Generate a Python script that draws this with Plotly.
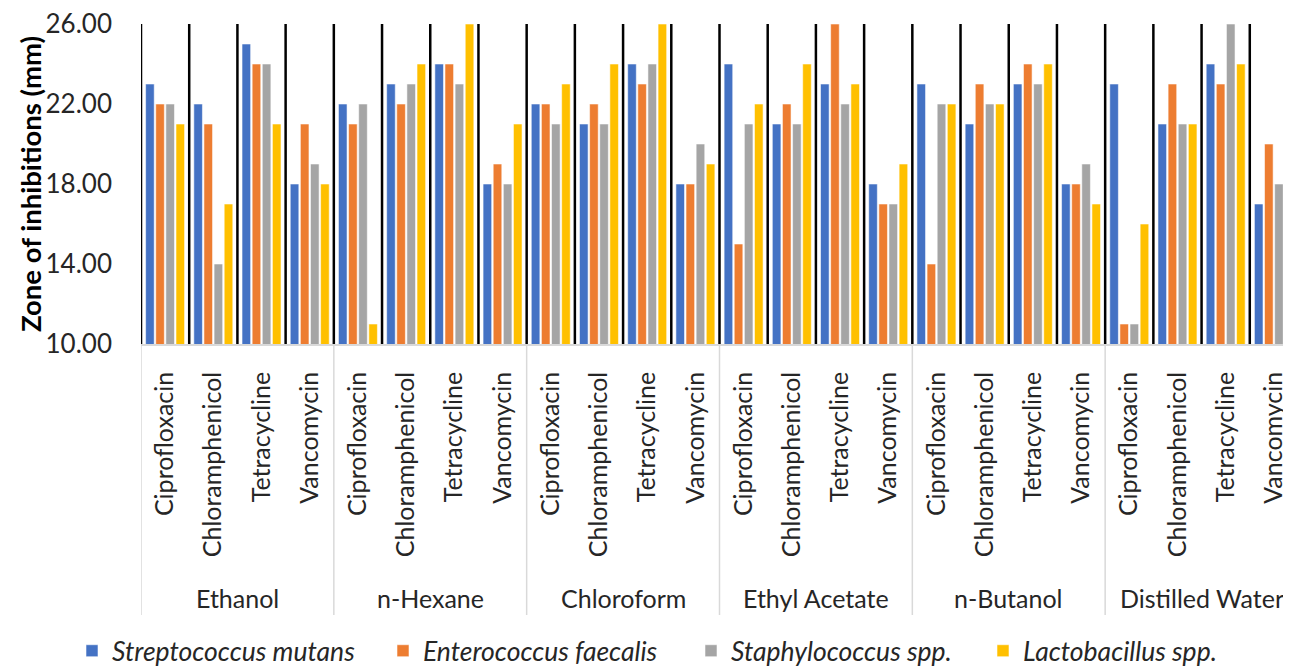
import plotly.graph_objects as go

solvents = ["Ethanol", "n-Hexane", "Chloroform", "Ethyl Acetate", "n-Butanol", "Distilled Water"]
drugs = ["Ciprofloxacin", "Chloramphenicol", "Tetracycline", "Vancomycin"]

series_names = ["Streptococcus mutans", "Enterococcus faecalis", "Staphylococcus spp.", "Lactobacillus spp."]

# values per solvent, ordered by drugs
strep = [23, 22, 25, 18,  22, 23, 24, 18,  22, 21, 24, 18,  24, 21, 23, 18,  23, 21, 23, 18,  23, 21, 24, 17]
entero = [22, 21, 24, 21,  21, 22, 24, 19,  22, 22, 23, 18,  15, 22, 26, 17,  14, 23, 24, 18,  11, 23, 23, 20]
staph = [22, 14, 24, 19,  22, 23, 23, 18,  21, 21, 24, 20,  21, 21, 22, 17,  22, 22, 23, 19,  11, 21, 26, 18]
lacto = [21, 17, 21, 18,  11, 24, 26, 21,  23, 24, 26, 19,  22, 24, 23, 19,  22, 22, 24, 17,  16, 21, 24, 18]

y_ticks = [10, 14, 18, 22, 26]

colors = ["#4472C4", "#ED7D31", "#A5A5A5", "#FFC000"]

W, H = 1283, 658  # page body adds an 8px margin
n_d = len(drugs)
n_cat = len(solvents) * n_d
xpos = list(range(n_cat))
tick_text = [d for _ in solvents for d in drugs]

FONT = "Lato"
TXT = "#262626"

legend_left_px = [64, 375, 683, 975]
legend_ids = ["legend", "legend2", "legend3", "legend4"]

fig = go.Figure()
for name, vals, col, lid in zip(series_names, [strep, entero, staph, lacto], colors, legend_ids):
    fig.add_trace(go.Bar(
        x=xpos, y=vals, name=name, legend=lid,
        marker=dict(color=col, line=dict(color="rgba(255,255,255,0.55)", width=1)),
    ))

shapes = []
for i in range(n_cat):
    shapes.append(dict(type="line", xref="x", yref="y", x0=i - 0.5, x1=i - 0.5, y0=10, y1=26,
                       line=dict(color="black", width=2.5), layer="above"))
for g in range(len(solvents) + 1):
    shapes.append(dict(type="line", xref="x", yref="paper", x0=g * n_d - 0.5, x1=g * n_d - 0.5,
                       y0=-0.005, y1=-0.847, line=dict(color="#D9D9D9", width=1.5)))

annotations = []
for g, s in enumerate(solvents):
    annotations.append(dict(text=s, xref="x", yref="paper", x=g * n_d + (n_d - 1) / 2, y=-0.794,
                            xanchor="center", yanchor="middle", showarrow=False,
                            font=dict(family=FONT, size=25, color=TXT)))
annotations.append(dict(
    text="<b>Zone of inhibitions (mm)</b>", textangle=-90,
    xref="paper", yref="paper", x=0, y=0.5, xanchor="center", yanchor="middle",
    xshift=-111, showarrow=False,
    font=dict(family=FONT, size=27.5, color="#000000"),
))

leg_common = dict(orientation="h", xref="container", yref="container",
                  xanchor="left", y=1 - 643 / H, yanchor="middle",
                  font=dict(family=FONT, size=26.5, style="italic", color=TXT),
                  itemwidth=30, bgcolor="rgba(0,0,0,0)")
legends = {lid: dict(leg_common, x=px / W) for lid, px in zip(legend_ids, legend_left_px)}

fig.update_layout(
    width=W, height=H,
    margin=dict(l=133, r=0, t=16, b=322),
    paper_bgcolor="white", plot_bgcolor="white",
    barmode="group", bargap=0.16, bargroupgap=0.15,
    font=dict(family=FONT, color=TXT, size=25),
    showlegend=True,
    xaxis=dict(
        range=[-0.5, 23.355], automargin=False,
        tickvals=xpos, ticktext=tick_text, tickangle=-90,
        showgrid=False, zeroline=False, ticks="",
        showline=True, linecolor="#D9D9D9", linewidth=1.5,
        tickfont=dict(family=FONT, size=25, color=TXT),
        ticklabelstandoff=16, ticklabeloverflow="allow",
    ),
    yaxis=dict(
        range=[10, 26], tickvals=y_ticks, tickformat=".2f", automargin=False,
        showgrid=False, zeroline=False, showline=False, ticks="",
        tickfont=dict(family=FONT, size=26, color=TXT),
        ticklabelstandoff=28, ticklabeloverflow="allow",
    ),
    shapes=shapes,
    annotations=annotations,
    **legends,
)

fig.write_html("out.html")
